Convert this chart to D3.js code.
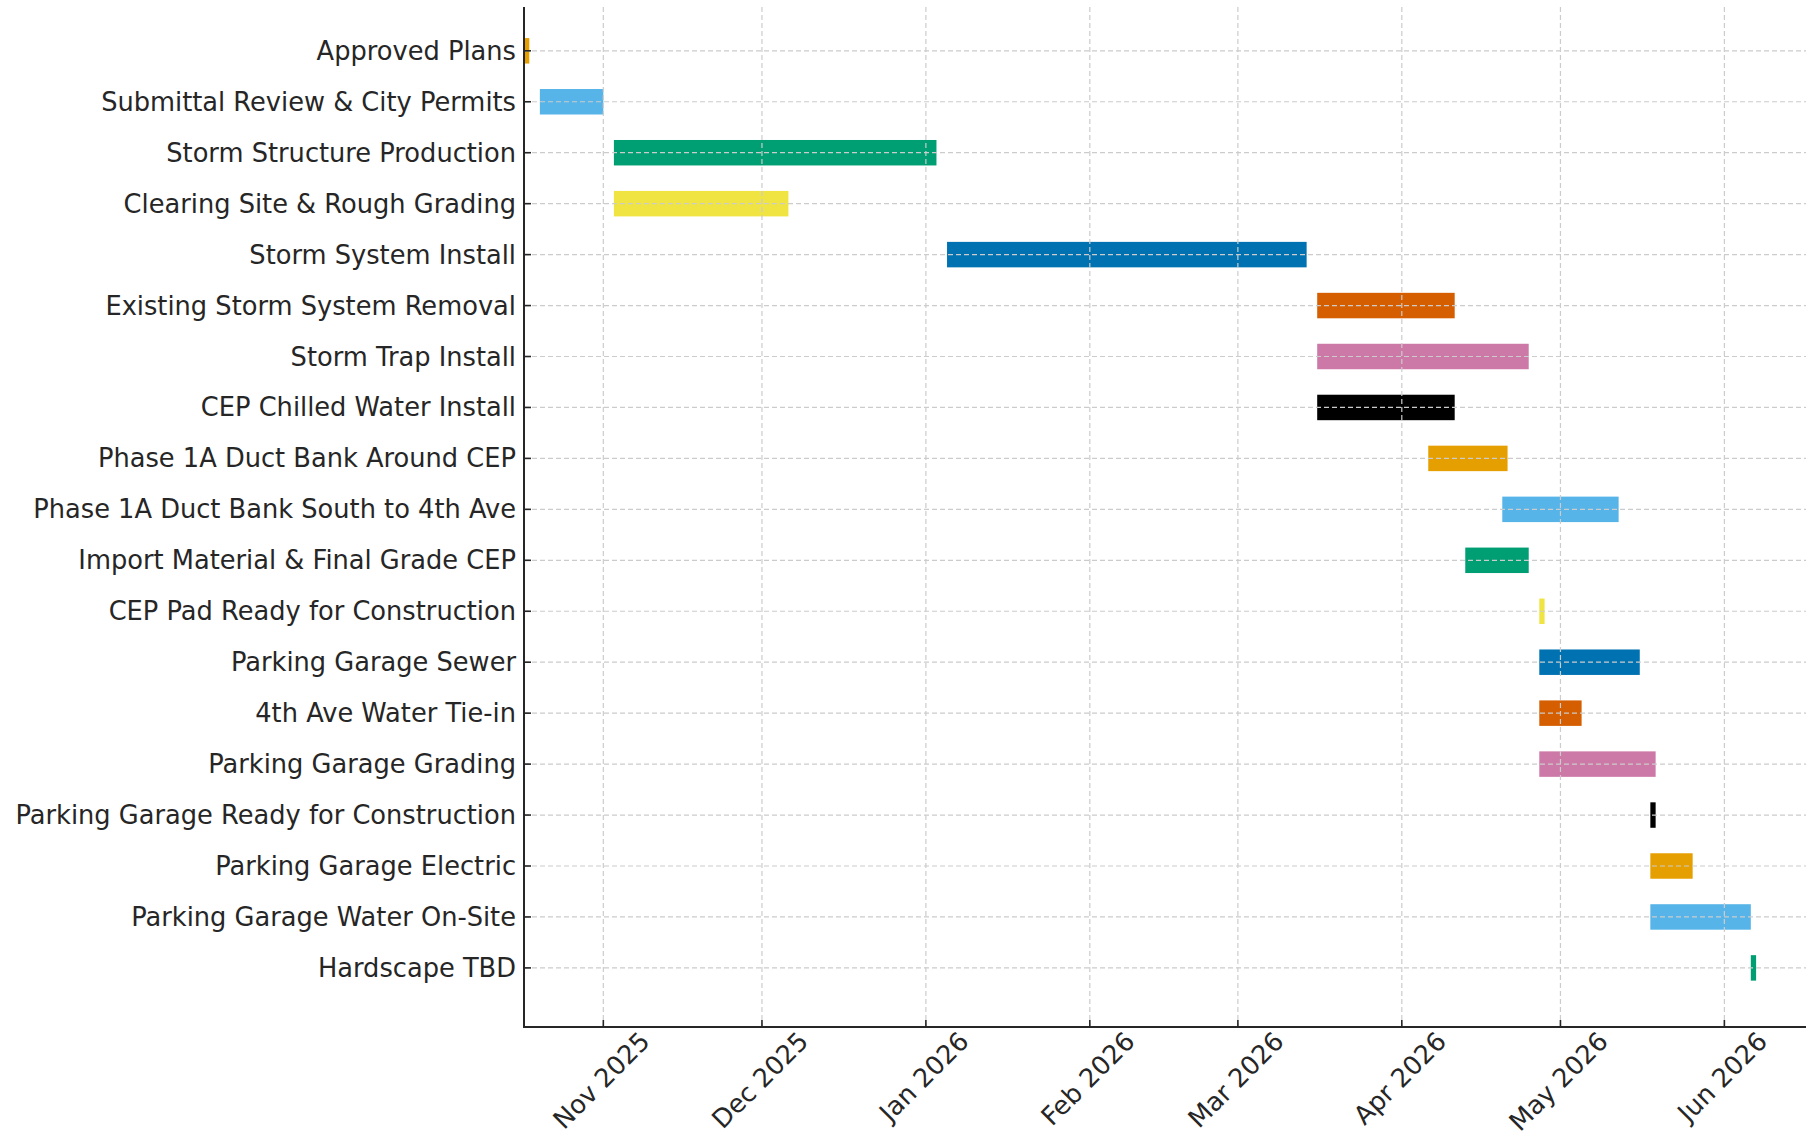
<!DOCTYPE html>
<html lang="en">
<head>
    <meta charset="UTF-8">
    <title>Site Work Schedule</title>
    <script src="https://d3js.org/d3.v7.min.js"></script>
    <style>
        body {
            margin: 0;
            background: #fff;
        }

        svg text {
            font-family: "DejaVu Sans", sans-serif;
            font-size: 25.7px;
            fill: #262626;
        }

        .grid line {
            stroke: #cccccc;
            stroke-width: 1.2px;
            stroke-dasharray: 5, 3;
        }

        .spine {
            stroke: #262626;
            stroke-width: 2px;
        }

        .tick-mark {
            stroke: #262626;
            stroke-width: 1.6px;
        }
    </style>
</head>
<body>
    <div id="chart"></div>

    <script>
        // Schedule data
        const tasks = [
            "Approved Plans",
            "Submittal Review & City Permits",
            "Storm Structure Production",
            "Clearing Site & Rough Grading",
            "Storm System Install",
            "Existing Storm System Removal",
            "Storm Trap Install",
            "CEP Chilled Water Install",
            "Phase 1A Duct Bank Around CEP",
            "Phase 1A Duct Bank South to 4th Ave",
            "Import Material & Final Grade CEP",
            "CEP Pad Ready for Construction",
            "Parking Garage Sewer",
            "4th Ave Water Tie-in",
            "Parking Garage Grading",
            "Parking Garage Ready for Construction",
            "Parking Garage Electric",
            "Parking Garage Water On-Site",
            "Hardscape TBD"
        ];

        const starts = [
            "2025-10-17", "2025-10-20", "2025-11-03", "2025-11-03", "2026-01-05",
            "2026-03-16", "2026-03-16", "2026-03-16", "2026-04-06", "2026-04-20",
            "2026-04-13", "2026-04-27", "2026-04-27", "2026-04-27", "2026-04-27",
            "2026-05-18", "2026-05-18", "2026-05-18", "2026-06-06"
        ];

        const ends = [
            "2025-10-18", "2025-11-01", "2026-01-03", "2025-12-06", "2026-03-14",
            "2026-04-11", "2026-04-25", "2026-04-11", "2026-04-21", "2026-05-12",
            "2026-04-25", "2026-04-28", "2026-05-16", "2026-05-05", "2026-05-19",
            "2026-05-19", "2026-05-26", "2026-06-06", "2026-06-07"
        ];

        const tickDates = [
            "2025-11-01", "2025-12-01", "2026-01-01", "2026-02-01",
            "2026-03-01", "2026-04-01", "2026-05-01", "2026-06-01"
        ];

        const palette = ["#E69F00", "#56B4E9", "#009E73", "#F0E442", "#0072B2", "#D55E00", "#CC79A7", "#000000"];

        const parse = d3.utcParse("%Y-%m-%d");
        const fmt = d3.utcFormat("%b %Y");

        const width = 1806, height = 1137;
        const plotLeft = 524, plotTop = 7, plotBottom = 1027;
        const pxPerDay = 5.288;

        const domainStart = parse("2025-10-17");
        const domainEnd = parse("2026-06-17");
        const nDays = (domainEnd - domainStart) / 864e5;

        const x = d3.scaleUtc()
            .domain([domainStart, domainEnd])
            .range([plotLeft, plotLeft + nDays * pxPerDay]);

        const y = d3.scaleLinear()
            .domain([-0.86, tasks.length + 0.16])
            .range([plotTop, plotBottom]);

        const rowStep = y(1) - y(0);
        const barH = rowStep * 0.5;

        const svg = d3.select("#chart").append("svg")
            .attr("width", width)
            .attr("height", height);

        const rows = tasks.map((t, i) => ({ task: t, i: i, start: parse(starts[i]), end: parse(ends[i]) }));

        // bars
        svg.append("g").selectAll("rect")
            .data(rows)
            .enter().append("rect")
            .attr("x", d => x(d.start))
            .attr("y", d => y(d.i) - barH / 2)
            .attr("width", d => x(d.end) - x(d.start))
            .attr("height", barH)
            .attr("fill", d => palette[d.i % palette.length]);

        // grid (drawn above bars, like the original)
        const grid = svg.append("g").attr("class", "grid");
        grid.selectAll(".vg")
            .data(tickDates)
            .enter().append("line")
            .attr("x1", d => x(parse(d)))
            .attr("x2", d => x(parse(d)))
            .attr("y1", plotTop)
            .attr("y2", plotBottom);
        grid.selectAll(".hg")
            .data(rows)
            .enter().append("line")
            .attr("x1", plotLeft)
            .attr("x2", width)
            .attr("y1", d => y(d.i))
            .attr("y2", d => y(d.i));

        // spines
        svg.append("line").attr("class", "spine")
            .attr("x1", plotLeft).attr("x2", plotLeft)
            .attr("y1", plotTop).attr("y2", plotBottom + 1);
        svg.append("line").attr("class", "spine")
            .attr("x1", plotLeft - 1).attr("x2", width)
            .attr("y1", plotBottom).attr("y2", plotBottom);

        // y ticks (pointing inward) + labels
        svg.append("g").selectAll("line")
            .data(rows)
            .enter().append("line")
            .attr("class", "tick-mark")
            .attr("x1", plotLeft).attr("x2", plotLeft + 7)
            .attr("y1", d => y(d.i)).attr("y2", d => y(d.i));

        svg.append("g").selectAll("text")
            .data(rows)
            .enter().append("text")
            .attr("x", plotLeft - 8)
            .attr("y", d => y(d.i))
            .attr("dy", "0.35em")
            .attr("text-anchor", "end")
            .text(d => d.task);

        // x ticks (inward) + rotated labels
        svg.append("g").selectAll("line")
            .data(tickDates)
            .enter().append("line")
            .attr("class", "tick-mark")
            .attr("x1", d => x(parse(d))).attr("x2", d => x(parse(d)))
            .attr("y1", plotBottom).attr("y2", plotBottom - 7);

        const textH = 25.7 * 1.164;
        svg.append("g").selectAll("text")
            .data(tickDates)
            .enter().append("text")
            .attr("text-anchor", "middle")
            .attr("dy", "0.35em")
            .text(d => fmt(parse(d)))
            .each(function(d) {
                const w = this.getComputedTextLength();
                const b = (w + textH) * Math.SQRT1_2;
                d3.select(this).attr("transform",
                    `translate(${x(parse(d)) - 2},${plotBottom - 1 + b / 2}) rotate(-45)`);
            });
    </script>
</body>
</html>
